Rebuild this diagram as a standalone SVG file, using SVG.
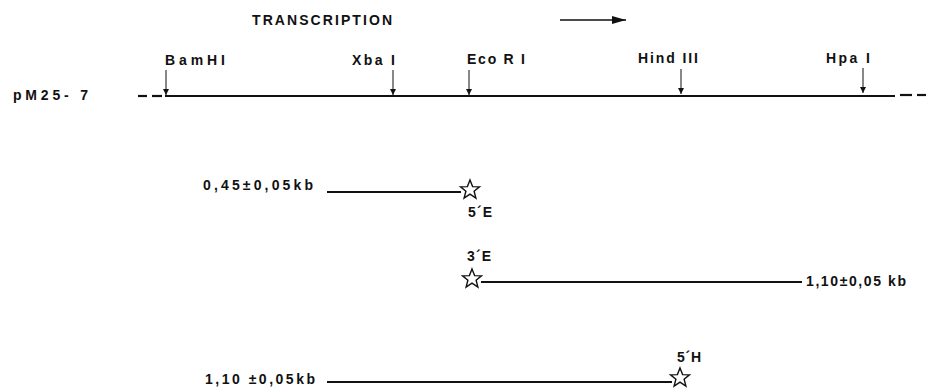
<svg xmlns="http://www.w3.org/2000/svg" width="926" height="388" viewBox="0 0 926 388">
<style>
text{font-family:"Liberation Sans",Arial,sans-serif;font-size:14px;font-weight:bold;fill:#111}
.ln{stroke:#111;stroke-width:2.2;fill:none}
.tk{stroke:#111;stroke-width:1;fill:none}
.star{fill:#fff;stroke:#111;stroke-width:1.4;stroke-linejoin:miter}
</style>
<defs>
<marker id="ah" viewBox="0 0 6 8" refX="6" refY="4" markerWidth="6" markerHeight="8" markerUnits="userSpaceOnUse" orient="auto"><path d="M0,1 L6,4 L0,7 Z" fill="#111"/></marker>
<marker id="big" viewBox="0 0 14 8" refX="14" refY="4" markerWidth="14" markerHeight="8" markerUnits="userSpaceOnUse" orient="auto"><path d="M0,0 L14,4 L0,8 Z" fill="#111"/></marker>
<path id="st" d="M0,-10 L2.6,-3.4 L9.5,-3.1 L4.1,1.3 L5.9,8.1 L0,4.2 L-5.9,8.1 L-4.1,1.3 L-9.5,-3.1 L-2.6,-3.4 Z"/>
</defs>
<g id="title">
<text x="252" y="25" textLength="140" lengthAdjust="spacing">TRANSCRIPTION</text>
<line class="ln" x1="560" y1="20" x2="626" y2="20" marker-end="url(#big)" style="stroke-width:1.6"/>
</g>
<g id="map">
<text x="13" y="100" textLength="75" lengthAdjust="spacing">pM25- 7</text>
<line class="ln" x1="138" y1="96" x2="147" y2="96"/>
<line class="ln" x1="152" y1="96" x2="162" y2="96"/>
<line class="ln" x1="165" y1="96" x2="895" y2="96"/>
<line class="ln" x1="900" y1="95" x2="912" y2="95"/>
<line class="ln" x1="917" y1="95" x2="926" y2="95"/>
</g>
<g id="sites">
<text x="165" y="65" textLength="60" lengthAdjust="spacing">BamHI</text>
<line class="tk" x1="166" y1="70" x2="166" y2="95" marker-end="url(#ah)"/>
<text x="352" y="65" textLength="43" lengthAdjust="spacing">Xba I</text>
<line class="tk" x1="393" y1="70" x2="393" y2="95" marker-end="url(#ah)"/>
<text x="467" y="64" textLength="58" lengthAdjust="spacing">Eco R I</text>
<line class="tk" x1="469" y1="70" x2="469" y2="95" marker-end="url(#ah)"/>
<text x="638" y="63" textLength="60" lengthAdjust="spacing">Hind III</text>
<line class="tk" x1="681" y1="69" x2="681" y2="94" marker-end="url(#ah)"/>
<text x="826" y="63" textLength="44" lengthAdjust="spacing">Hpa I</text>
<line class="tk" x1="863" y1="68" x2="863" y2="93" marker-end="url(#ah)"/>
</g>
<g id="frag1">
<text x="203" y="190" textLength="110" lengthAdjust="spacing">0,45±0,05kb</text>
<line class="ln" x1="327" y1="192" x2="461" y2="192"/>
<use href="#st" class="star" x="470" y="190"/>
<text x="468" y="217" textLength="24" lengthAdjust="spacing">5´E</text>
</g>
<g id="frag2">
<text x="467" y="261" textLength="24" lengthAdjust="spacing">3´E</text>
<use href="#st" class="star" x="472" y="279"/>
<line class="ln" x1="481" y1="282" x2="802" y2="282"/>
<text x="806" y="286" textLength="100" lengthAdjust="spacing">1,10±0,05 kb</text>
</g>
<g id="frag3">
<text x="205" y="384" textLength="110" lengthAdjust="spacing">1,10 ±0,05kb</text>
<line class="ln" x1="327" y1="382" x2="672" y2="382"/>
<use href="#st" class="star" x="680" y="378"/>
<text x="677" y="362" textLength="24" lengthAdjust="spacing">5´H</text>
</g>
</svg>
